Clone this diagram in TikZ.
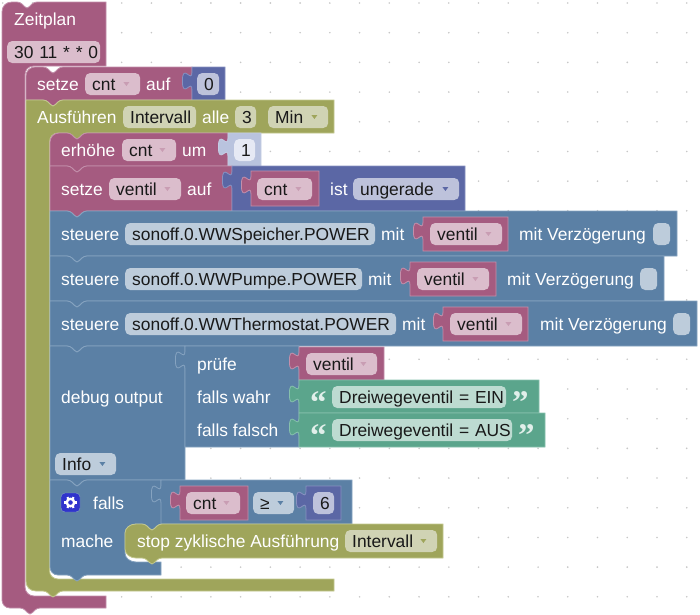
\documentclass[tikz,border=0pt]{standalone}
\usepackage{fontspec}
\setmainfont{Liberation Sans}
\newfontfamily\quotefont{Liberation Serif}
\definecolor{maroon}{HTML}{A55B80}
\definecolor{maroonl}{HTML}{C38FAB}
\definecolor{maroonf}{HTML}{DBBDCC}
\definecolor{olive}{HTML}{9FA55B}
\definecolor{olivel}{HTML}{C3C88F}
\definecolor{olivef}{HTML}{D0D3B4}
\definecolor{steel}{HTML}{5B80A5}
\definecolor{steell}{HTML}{86A3C0}
\definecolor{steelf}{HTML}{BDCCDB}
\definecolor{indigo}{HTML}{5B67A5}
\definecolor{indigol}{HTML}{8791C0}
\definecolor{indigof}{HTML}{BDC2DB}
\definecolor{teal}{HTML}{5BA58C}
\definecolor{teall}{HTML}{86C0AC}
\definecolor{tealf}{HTML}{BDDBD1}
\definecolor{pale}{HTML}{B9C3DE}
\definecolor{palef}{HTML}{E6E9F4}
\definecolor{gearblue}{HTML}{3034CC}
\tikzset{
x=1pt, y=-1pt,
griddot/.style={fill=black!22},
bmaroon/.style={fill=maroon, draw=maroonl, line width=0.8pt},
bolive/.style={fill=olive, draw=olivel, line width=0.8pt},
bsteel/.style={fill=steel, draw=steell, line width=0.8pt},
bindigo/.style={fill=indigo, draw=indigol, line width=0.8pt},
bteal/.style={fill=teal, draw=teall, line width=0.8pt},
bpale/.style={fill=pale, draw=pale!85!white, line width=0.8pt},
lbl/.style={anchor=base west, inner sep=0pt, text=white, font=\fontsize{17.4}{20}\selectfont},
fieldbox/.style={
  anchor=west, 
  rectangle, 
  rounded corners=5pt, 
  inner xsep=7pt, inner ysep=4.75pt, 
  text height=12.5pt, text depth=0pt, align=left, 
  text=black!90, font=\fontsize{17.4}{20}\selectfont
  }, 
fmaroon/.style={fieldbox, fill=maroonf},
folive/.style={fieldbox, fill=olivef},
fsteel/.style={fieldbox, fill=steelf},
findigo/.style={fieldbox, fill=indigof},
fteal/.style={fieldbox, fill=tealf},
fpale/.style={fieldbox, fill=palef},
quotemark/.style={anchor=base west, inner sep=0pt, text=white!82!teal, font=\quotefont\bfseries\fontsize{33}{33}\selectfont}
}
% path pieces: notch or bump, and the tab of a value block
\newcommand{\notch}[3]{-- (#1,#2) .. controls (#1+#3*2.5,#2) and (#1+#3*3.5,#2+1) .. (#1+#3*5,#2+2) -- (#1+#3*7.5,#2+4.5) .. controls (#1+#3*8.5,#2+5.5) and (#1+#3*9,#2+6) .. (#1+#3*10,#2+6) .. controls (#1+#3*11,#2+6) and (#1+#3*11.5,#2+5.5) .. (#1+#3*12.5,#2+4.5) -- (#1+#3*15,#2+2) .. controls (#1+#3*16.5,#2+1) and (#1+#3*17.5,#2) .. (#1+#3*20,#2)}
\newcommand{\tabedge}[2]{-- (#1,#2) .. controls (#1,#2+12) and (#1-9.6,#2-9.6) .. (#1-9.6,#2+9) .. controls (#1-9.6,#2+27.6) and (#1,#2+6) .. (#1,#2+18)}
\newcommand{\stmt}[5]{\draw[#1] (#2,#3) \notch{#2+17}{#3}{1} -- (#4,#3) -- (#4,#5) \notch{#2+37}{#5}{-1} -- (#2,#5) -- cycle;}
\newcommand{\stmtfirst}[5]{\draw[#1] (#2,#3+9) .. controls (#2,#3+4) and (#2+4,#3) .. (#2+9,#3) \notch{#2+17}{#3}{1} -- (#4,#3) -- (#4,#5) \notch{#2+37}{#5}{-1} -- (#2,#5) -- cycle;}
\newcommand{\valblock}[5]{\draw[#1] (#2,#3) \tabedge{#2}{#3+5} -- (#2,#5) -- (#4,#5) -- (#4,#3) -- cycle;}
\newcommand{\droptip}[2]{\fill[#2] ([xshift=-17pt,yshift=2pt]#1.east) -- ++(6,0) -- ++(-3,4) -- cycle;}

\begin{document}
\begin{tikzpicture}
\useasboundingbox (0,0) rectangle (700,614);

\foreach \i in {0,...,23}
  \foreach \j in {0,...,20}
    \fill[griddot] ({2.7+29.74*\i},{3+29.69*\j}) circle (0.9);

% outer block
\draw[bmaroon] (2,12) .. controls (2,6) and (6,2) .. (12,2) \notch{17}{2}{1} -- (106,2) -- (106,66) -- (34,66) .. controls (28,66) and (25,70) .. (25,75) -- (25,587) .. controls (25,592) and (29,596) .. (34,596) -- (106,596) -- (106,608) \notch{40}{608}{-1} -- (10,608) .. controls (5,608) and (2,604) .. (2,600) -- cycle;
\node[lbl]		(zeitplan)	at (14,25)		{Zeitplan};
\node[fmaroon, text width=79pt]	(cron)	at (7,52)	{\mbox{30 11 * * 0}};

\stmtfirst{bmaroon}{26}{67}{192}{100}
\valblock{bindigo}{192}{67}{225}{100}
\node[lbl]		(setzeA)	at (37,90)		{setze};
\node[fmaroon, text width=41pt]	(cntA)	at (85,84)	{cnt};
\droptip{cntA}{maroon!60}
\node[lbl]		(aufA)		at (146,90)		{auf};
\node[findigo, text width=8pt, align=center]	(nullA)	at (197,84)	{0};

% interval block
\draw[bolive] (26,100) \notch{43}{100}{1} -- (334,100) -- (334,133) \notch{87}{133}{-1} -- (58,133) .. controls (53,133) and (49.5,137) .. (49.5,142) -- (49.5,571) .. controls (49.5,575) and (53,579) .. (58,579) -- (334,579) -- (334,591) \notch{63}{591}{-1} -- (36,591) .. controls (30,591) and (26,587) .. (26,581) -- cycle;
\node[lbl]		(run)		at (37,123)		{Ausführen};
\node[folive, text width=59pt]	(interval)	at (123,117)	{Intervall};
\node[lbl]		(alle)		at (202,123)	{alle};
\node[folive, text width=7pt, align=center]	(drei)	at (235,117)	{3};
\node[folive, text width=46pt]	(minutes)	at (268,117)	{Min};
\droptip{minutes}{olive}

\stmtfirst{bmaroon}{50}{133}{228}{166}
\valblock{bpale}{228}{133}{261}{166}
\node[lbl]		(more)		at (61,156)		{erhöhe};
\node[fmaroon, text width=40pt]	(cntB)	at (122,150)	{cnt};
\droptip{cntB}{maroon!60}
\node[lbl]		(um)		at (182,156)	{um};
\node[fpale, text width=7pt, align=center]	(eins)	at (234,150)	{1};

\stmt{bmaroon}{50}{166}{232}{211}
\valblock{bindigo}{232}{166}{465}{211}
\valblock{bmaroon}{251}{171}{319}{206}
\node[lbl]		(setzeB)	at (61,195)		{setze};
\node[fmaroon, text width=58pt]	(ventilA)	at (109,189)	{ventil};
\droptip{ventilA}{maroon!60}
\node[lbl]		(aufB)		at (187,195)	{auf};
\node[fmaroon, text width=41pt]	(cntC)	at (257,189)	{cnt};
\droptip{cntC}{maroon!60}
\node[lbl]		(ist)		at (330,195)	{ist};
\node[findigo, text width=92pt]	(odd)	at (353,189)	{ungerade};
\droptip{odd}{indigo}

% control blocks
\stmt{bsteel}{50}{211}{677}{256}
\valblock{bmaroon}{423}{217}{508}{251}
\node[lbl]		(ctrlA)		at (61,240)		{steuere};
\node[fsteel, text width=236pt]	(speicher)	at (125,234)	{\mbox{sonoff.0.WWSpeicher.POWER}};
\node[lbl]		(mitA)		at (381,240)	{mit};
\node[fmaroon, text width=58pt]	(ventilB)	at (430,234)	{ventil};
\droptip{ventilB}{maroon!60}
\node[lbl]		(delayA)	at (519,240)	{mit Verzögerung};
\node[fsteel, text width=3pt]	(boxA)		at (653,234)	{};

\stmt{bsteel}{50}{256}{664}{301}
\valblock{bmaroon}{410}{262}{496}{296}
\node[lbl]		(ctrlB)		at (61,285)		{steuere};
\node[fsteel, text width=223pt]	(pumpe)	at (125,279)	{\mbox{sonoff.0.WWPumpe.POWER}};
\node[lbl]		(mitB)		at (368,285)	{mit};
\node[fmaroon, text width=58pt]	(ventilC)	at (417,279)	{ventil};
\droptip{ventilC}{maroon!60}
\node[lbl]		(delayB)	at (507,285)	{mit Verzögerung};
\node[fsteel, text width=3pt]	(boxB)		at (640,279)	{};

\stmt{bsteel}{50}{301}{697}{346}
\valblock{bmaroon}{443}{307}{528}{341}
\node[lbl]		(ctrlC)		at (61,330)		{steuere};
\node[fsteel, text width=257pt]	(thermo)	at (125,324)	{\mbox{sonoff.0.WWThermostat.POWER}};
\node[lbl]		(mitC)		at (402,330)	{mit};
\node[fmaroon, text width=58pt]	(ventilD)	at (450,324)	{ventil};
\droptip{ventilD}{maroon!60}
\node[lbl]		(delayC)	at (540,330)	{mit Verzögerung};
\node[fsteel, text width=3pt]	(boxC)		at (673,324)	{};

% debug output
\stmt{bsteel}{50}{346}{185}{480}
\valblock{bsteel}{185}{346}{299}{447}
\valblock{bmaroon}{299}{347}{384}{380}
\valblock{bteal}{299}{380}{539}{413}
\valblock{bteal}{299}{413}{545}{447}
\node[lbl]		(debug)		at (61,403)		{debug output};
\node[lbl]		(check)		at (197,370)	{prüfe};
\node[lbl]		(istrue)	at (197,403)	{falls wahr};
\node[lbl]		(isfalse)	at (197,436)	{falls falsch};
\node[fmaroon, text width=57pt]	(ventilE)	at (306,364)	{ventil};
\droptip{ventilE}{maroon!60}
\node[quotemark]	(openA)		at (310,413)	{“};
\node[fteal, text width=160pt]	(ein)	at (332,397)	{\mbox{Dreiwegeventil = EIN}};
\node[quotemark]	(closeA)	at (512,413)	{”};
\node[quotemark]	(openB)		at (310,446)	{“};
\node[fteal, text width=166pt]	(aus)	at (332,430)	{\mbox{Dreiwegeventil = AUS}};
\node[quotemark]	(closeB)	at (518,446)	{”};
\node[fsteel, text width=47pt]	(level)	at (55,464)	{Info};
\droptip{level}{steel}

% condition block
\draw[bsteel] (50,480) \notch{67}{480}{1} -- (161,480) -- (162,524) \notch{162}{524}{-1} -- (136,524) .. controls (130,524) and (125,528) .. (125,533) -- (125,553) .. controls (125,558) and (130,562) .. (136,562) -- (161,562) -- (161,575) \notch{87}{575}{-1} -- (58,575) .. controls (53,575) and (50,571) .. (50,567) -- cycle;
\valblock{bsteel}{161}{480}{352}{524}
\valblock{bmaroon}{180}{486}{248}{520}
\valblock{bindigo}{306}{486}{341}{520}
\node[fill=gearblue, draw=steell, rounded corners=4pt, minimum size=19pt, inner sep=0pt]	(gear)	at (70.5,502.5)	{};
\foreach \a in {0,60,...,300}
  \draw[white, line width=2.2pt] ([shift={(\a:3)}]gear.center) -- ([shift={(\a:6.2)}]gear.center);
\fill[white, even odd rule] (gear.center) circle (5) (gear.center) circle (2.4);
\node[lbl]		(falls)		at (93,509)		{falls};
\node[lbl]		(mache)		at (61,547)		{mache};
\node[fmaroon, text width=40pt]	(cntD)	at (186,503)	{cnt};
\droptip{cntD}{maroon!60}
\node[fsteel, text width=27pt]	(ge)	at (253,503)	{≥};
\droptip{ge}{steel}
\node[findigo, text width=7pt, align=center]	(sechs)	at (313,503)	{6};

% stop block
\draw[bolive] (125,533) .. controls (125,528) and (130,524) .. (136,524) \notch{142}{524}{1} -- (443,524) -- (443,558) \notch{162}{558}{-1} -- (136,558) .. controls (130,558) and (125,554) .. (125,549) -- cycle;
\node[lbl]		(stop)		at (137,547)	{stop zyklische Ausführung};
\node[folive, text width=78pt]	(intervalB)	at (345,541)	{Intervall};
\droptip{intervalB}{olive}
\end{tikzpicture}
\end{document}
